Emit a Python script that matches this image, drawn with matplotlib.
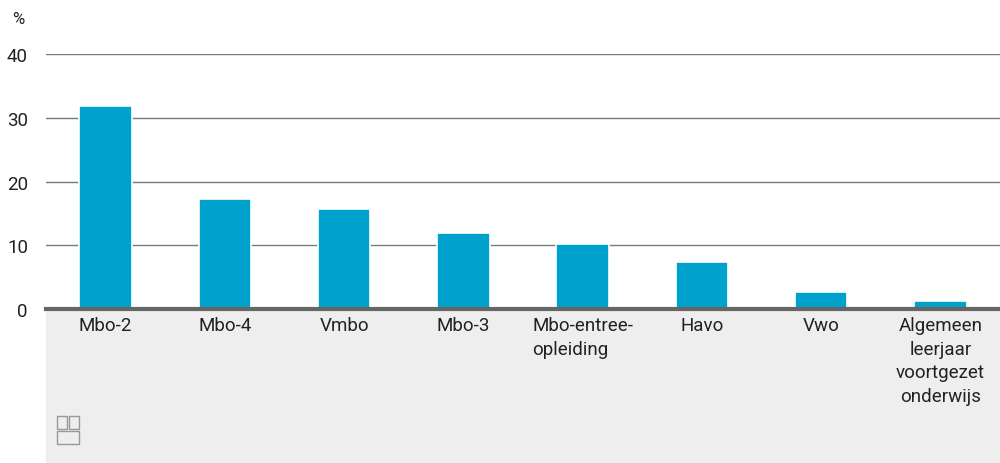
import matplotlib.pyplot as plt
from matplotlib.patches import Rectangle

plt.rcParams['font.family'] = ['Roboto', 'DejaVu Sans']

# data
categories = ['Mbo-2', 'Mbo-4', 'Vmbo', 'Mbo-3', 'Mbo-entree-\nopleiding',
              'Havo', 'Vwo', 'Algemeen\nleerjaar\nvoortgezet\nonderwijs']
values = [31.8, 17.2, 15.7, 12.0, 10.2, 7.4, 2.7, 1.3]
yticks = [0, 10, 20, 30, 40]

BAR = '#00a1cd'
TXT = '#222222'

fig = plt.figure(figsize=(10, 4.64), dpi=100)
bottom = (464 - 310) / 464
top = (464 - 55) / 464
ax = fig.add_axes([0.046, bottom, 0.954, top - bottom])
ax.set_zorder(2)

# gray label area below the axis
fig.patches.append(Rectangle((0.046, 0), 0.954, bottom, transform=fig.transFigure,
                             color='#eeeeee', zorder=0))

x = range(len(categories))
ax.bar(x, values, width=0.44, color=BAR, edgecolor='white', linewidth=1.2, zorder=3)

ax.set_xlim(-0.5, len(categories) - 0.5)
ax.set_ylim(0, 40)
ax.set_yticks(yticks)
ax.set_yticklabels([str(t) for t in yticks], fontsize=13.5, color=TXT)
ax.yaxis.grid(True, color='#7a7a7a', linewidth=1)
ax.set_axisbelow(True)
ax.tick_params(axis='y', length=0, pad=13)
ax.tick_params(axis='x', length=0, pad=5)
ax.set_xticks(list(x))
labels = ax.set_xticklabels(categories, fontsize=13.5, color=TXT, linespacing=1.4, va='top')
labels[4].set_multialignment('left')
for s in ['top', 'right', 'left']:
    ax.spines[s].set_visible(False)
ax.spines['bottom'].set_color('#666666')
ax.spines['bottom'].set_linewidth(3)
ax.spines['bottom'].set_zorder(4)
ax.set_facecolor('white')

fig.text(0.012, 0.957, '%', fontsize=12, color=TXT, ha='left', va='center')

# simplified cbs logo
lx, ly = 0.057, 0.04
w, h = 0.022, 0.065
for dx, dy, ww, hh in [(0, 0.5, 0.45, 0.45), (0.55, 0.5, 0.45, 0.45),
                       (0, 0.0, 1.0, 0.45)]:
    fig.patches.append(Rectangle((lx + dx * w, ly + dy * h), ww * w, hh * h,
                                 transform=fig.transFigure, fill=False,
                                 edgecolor='#999999', linewidth=1, zorder=1))

fig.savefig('out.png', dpi=100)
